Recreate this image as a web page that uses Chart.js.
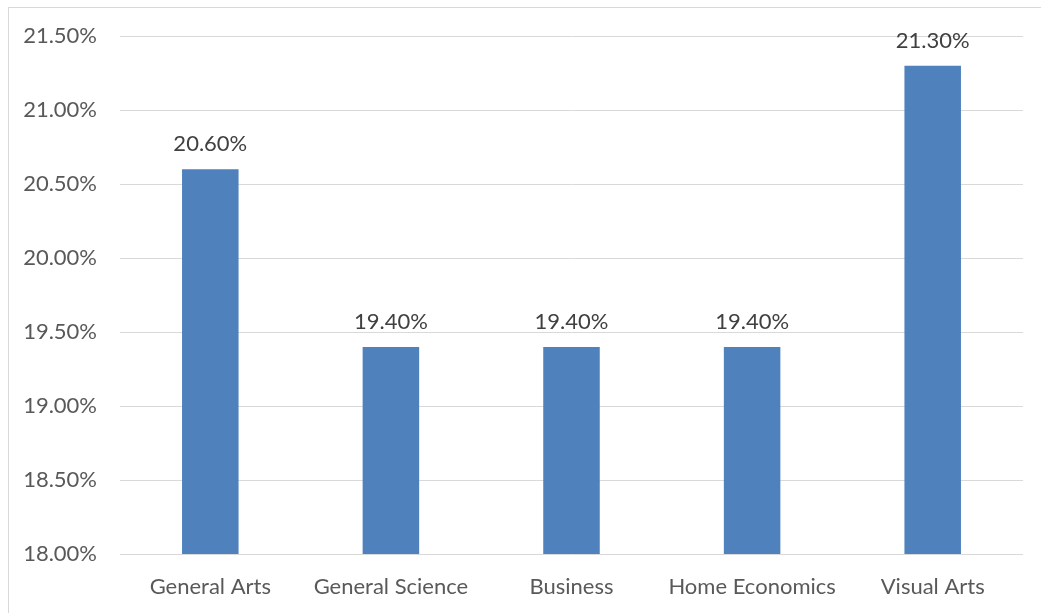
<!DOCTYPE html>
<html>
<head>
<meta charset="utf-8">
<script src="https://cdn.jsdelivr.net/npm/chart.js@4/dist/chart.umd.min.js"></script>
<style>
  html, body { margin: 0; padding: 0; background: #fff; overflow: hidden; }
  #frame {
    position: absolute; left: 8px; top: 7px; width: 1100px; height: 700px;
    border-left: 1px solid #d9d9d9; border-top: 1px solid #d9d9d9;
  }
  #wrap { position: absolute; left: 0; top: 0; width: 1041px; height: 613px; }
</style>
</head>
<body>
<div id="frame"></div>
<div id="wrap"><canvas id="shareChart" width="1041" height="613"></canvas></div>
<script>
const categories = ['General Arts', 'General Science', 'Business', 'Home Economics', 'Visual Arts'];
const shares = [20.6, 19.4, 19.4, 19.4, 21.3];
const yTicks = [18.0, 18.5, 19.0, 19.5, 20.0, 20.5, 21.0, 21.5];

const FONT = 'Lato, "Open Sans", sans-serif';

// value labels above each bar
const barLabels = {
  id: 'barLabels',
  afterDatasetsDraw(chart) {
    const ctx = chart.ctx;
    const meta = chart.getDatasetMeta(0);
    ctx.save();
    ctx.font = '22px ' + FONT;
    ctx.fillStyle = '#404040';
    ctx.textAlign = 'center';
    ctx.textBaseline = 'alphabetic';
    meta.data.forEach((bar, i) => {
      ctx.fillText(shares[i].toFixed(2) + '%', bar.x, bar.y - 18);
    });
    ctx.restore();
  }
};

new Chart(document.getElementById('shareChart'), {
  type: 'bar',
  data: {
    labels: categories,
    datasets: [{
      data: shares,
      backgroundColor: '#4f81bd',
      borderWidth: 0,
      categoryPercentage: 1,
      barPercentage: 0.313
    }]
  },
  options: {
    responsive: false,
    animation: false,
    layout: { padding: { top: 36, right: 18, left: 0, bottom: 0 } },
    plugins: {
      legend: { display: false },
      tooltip: { enabled: false }
    },
    scales: {
      x: {
        grid: { display: false },
        border: { display: false },
        ticks: { color: '#595959', font: { family: FONT, size: 22 }, padding: 12, maxRotation: 0 },
        afterFit(scale) { scale.height = 59; }
      },
      y: {
        min: yTicks[0],
        max: yTicks[yTicks.length - 1],
        afterBuildTicks(scale) { scale.ticks = yTicks.map(v => ({ value: v })); },
        grid: { color: '#d9d9d9', lineWidth: 1, drawTicks: false },
        border: { display: false },
        ticks: {
          color: '#595959',
          font: { family: FONT, size: 22 },
          padding: 23,
          callback: v => v.toFixed(2) + '%'
        },
        afterFit(scale) { scale.width = 120; }
      }
    }
  },
  plugins: [barLabels]
});
</script>
</body>
</html>
